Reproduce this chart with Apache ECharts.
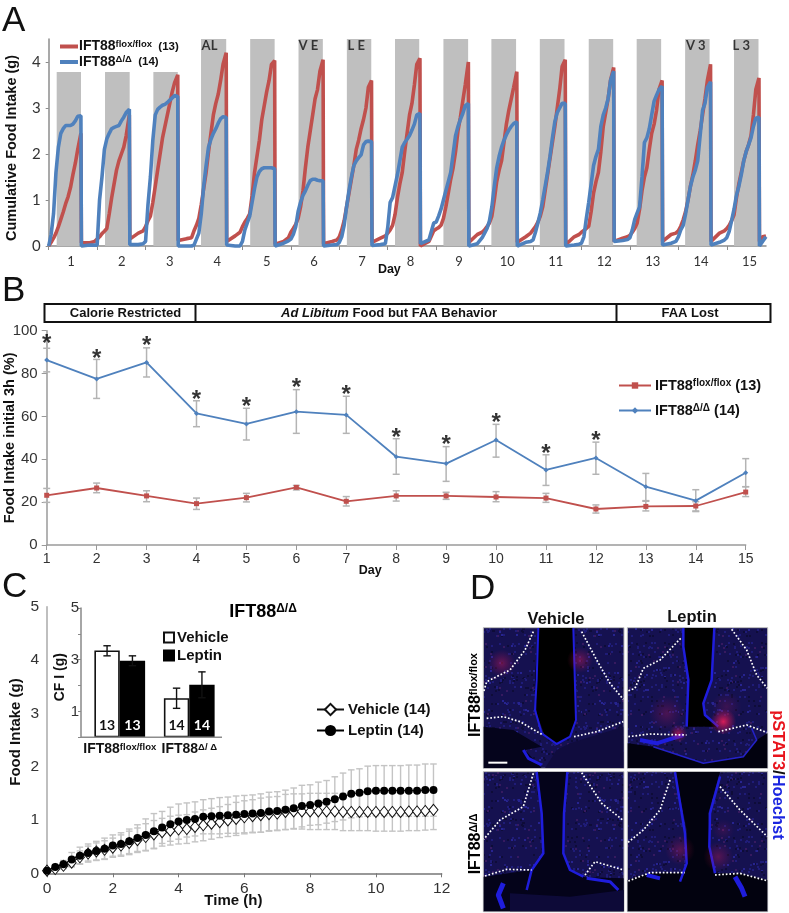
<!DOCTYPE html>
<html><head><meta charset="utf-8">
<script src="https://cdn.jsdelivr.net/npm/echarts@6/dist/echarts.min.js"></script>
<style>html,body{margin:0;padding:0;background:#fff}#c{width:789px;height:913px}</style>
</head><body><div id="c"></div>
<script>
/* ---------- Panel A data ---------- */
const dayLabels=['1','2','3','4','5','6','7','8','9','10','11','12','13','14','15'];
const dayTicks=[0,1,2,3,4,5,6,7,8,9,10,11,12,13,14];
const dayLabelAt=[.46,1.51,2.5,3.48,4.5,5.48,6.47,7.47,8.47,9.47,10.47,11.47,12.47,13.47,14.47];
const feedStart=[.165,1.163,2.161,3.145,4.16,5.158,6.156,7.15,8.15,9.14,10.14,11.15,12.14,13.14,14.15];
const feedEnd=[.667,1.672,2.665,3.665,4.665,5.66,6.66,7.65,8.66,9.65,10.65,11.655,12.645,13.645,14.655];
const feedTop=[3.78,3.78,3.78,4.5,4.5,4.5,4.5,4.5,4.5,4.5,4.5,4.5,4.5,4.5,4.5];
const bandTagX=[3.32,5.36,6.35,13.36,14.3];
const bandTagText=['AL','V E','L E','V 3','L 3'];
const sampleOffset=[-.325,-.15,-.05,0,.05,.1,.15,.2,.25,.3,.35,.4,.45,.5,.55,.6,.665];
const floxIntake=[
[null,null,null,0,.08,.17,.28,.42,.58,.74,.92,1.07,1.27,1.55,1.8,2.1,2.45],
[.07,.07,.1,.15,.2,.27,.32,.38,.7,1.05,1.35,1.65,1.85,2,2.15,2.4,2.85],
[.15,.28,.33,.42,.55,.65,.95,1.3,1.65,2,2.35,2.6,2.85,3.1,3.35,3.55,3.72],
[.12,.16,.18,.33,.45,.6,.9,1.25,1.6,2.05,2.45,2.85,3.1,3.3,3.6,3.95,4.2],
[.1,.22,.3,.42,.52,.6,.7,1.1,1.6,1.95,2.3,2.75,3.05,3.35,3.6,3.95,4.03],
[.04,.1,.18,.3,.38,.47,.6,.85,1.2,1.7,2.15,2.5,2.85,3.2,3.4,3.8,4.05],
[.05,.1,.13,.2,.35,.55,.85,1.15,1.45,1.75,2.1,2.3,2.55,2.75,3,3.45,3.6],
[.08,.17,.22,.28,.35,.45,.68,1.05,1.35,1.6,2.05,2.45,2.85,3.1,3.5,3.95,4.08],
[0,.1,.33,.37,.4,.45,.6,.85,1.15,1.45,1.7,2.05,2.5,2.8,3.15,3.5,4],
[.08,.25,.3,.35,.42,.5,.65,1,1.4,1.65,1.85,2.25,2.65,2.95,3.2,3.45,3.79],
[.08,.2,.28,.35,.42,.52,.65,.85,1.2,1.55,1.9,2.25,2.6,3,3.4,3.9,4.05],
[.03,.2,.25,.3,.34,.38,.43,.75,1.15,1.4,1.6,2.05,2.6,2.9,3.2,3.6,3.88],
[.1,.17,.2,.23,.3,.38,.5,.8,1.2,1.5,1.7,2.1,2.45,2.65,2.95,3.4,3.6],
[.1,.25,.28,.33,.43,.57,.75,1,1.3,1.55,1.85,2.2,2.5,2.85,3.2,3.6,3.95],
[.1,.28,.33,.38,.45,.55,.68,1.05,1.35,1.6,1.85,2.05,2.2,2.4,2.85,3.4,3.65]];
const deltaIntake=[
[null,null,null,0,.25,.7,1.6,2.15,2.45,2.55,2.62,2.62,2.62,2.65,2.72,2.82,2.83],
[0,.02,.02,.02,1,1.5,2.1,2.33,2.45,2.55,2.58,2.6,2.62,2.72,2.8,2.9,2.97],
[.03,.03,.05,.1,.9,1.5,2.3,2.85,2.97,3.02,3.06,3.08,3.12,3.17,3.22,3.27,3.25],
[0,0,0,.02,.15,.28,.7,1.3,1.75,2.15,2.32,2.45,2.55,2.67,2.77,2.81,2.8],
[.02,0,0,.1,.35,.5,.65,.95,1.25,1.5,1.62,1.68,1.7,1.7,1.7,1.7,1.68],
[0,.06,.11,.15,.25,.42,.75,.95,1.1,1.2,1.32,1.42,1.45,1.45,1.43,1.42,1.42],
[0,.02,.03,.08,.2,.45,.85,1.2,1.5,1.75,1.85,1.92,1.98,2.2,2.27,2.28,2.27],
[.01,.03,.05,.4,.95,1.05,1.3,1.55,1.85,2.15,2.25,2.32,2.4,2.52,2.65,2.85,2.88],
[.05,.13,.5,.52,.65,.8,1,1.2,1.4,1.6,2,2.4,2.6,2.75,2.88,3.05,3.1],
[0,.05,.18,.28,.38,.55,.85,1.3,1.7,1.95,2.15,2.3,2.42,2.52,2.6,2.66,2.7],
[0,.08,.1,.13,.3,.5,.72,1,1.3,1.6,1.95,2.35,2.7,2.9,3,3.1,3.1],
[0,.02,.04,.06,.2,.6,.95,1.35,1.75,1.95,2.1,2.6,2.85,3,3.2,3.6,3.8],
[.1,.12,.14,.18,.35,.58,.72,.85,1.5,2.25,2.35,2.55,2.85,3.15,3.28,3.4,3.47],
[.02,.06,.1,.2,.35,.45,.7,1,1.3,1.5,1.65,1.85,2.4,2.95,3.1,3.45,3.57],
[.02,.08,.13,.18,.32,.55,.8,1.1,1.3,1.55,1.85,2.05,2.2,2.35,2.6,2.78,2.8]];
const floxTail=[[14.675,.1],[14.74,.2],[14.81,.22]];
const deltaTail=[[14.675,0],[14.74,.1],[14.81,.2]];

/* ---------- Panel B data ---------- */
const trialDays=[1,2,3,4,5,6,7,8,9,10,11,12,13,14,15];
const floxInitial=[23.2,26.6,22.9,19.3,22.1,26.9,20.4,22.9,22.9,22.4,21.9,16.8,18,18.2,24.7];
const floxInitialHi=[26.4,28.9,25.3,21.9,24.1,27.8,22.6,25.3,24.6,24.9,24.1,18.7,20.4,20.2,27.2];
const floxInitialLo=[19.9,24.4,20.2,16.6,20.1,25.7,18.2,20.5,21.3,20.2,19.9,14.9,15.9,15.9,22.6];
const deltaInitial=[86.3,77.5,85.2,61.4,56.5,62.2,60.7,41.2,38,49,35,40.6,27.2,20.7,33.7];
const deltaInitialHi=[91.8,86.6,92,67.3,63.8,72.5,69.4,49.6,45.9,56.3,42.1,48,33.4,25.8,40.3];
const deltaInitialLo=[80.8,68.4,78.4,55.2,49,52.1,52.1,33,29.7,41,27.8,33,20.7,15.6,27.2];
const starDays=[1,2,3,4,5,6,7,8,9,10,11,12];
const starLevels=[95.6,88.6,94.6,69.5,66.1,75.1,71.9,51.6,48.2,58.6,44,50.2];

/* ---------- Panel C data ---------- */
const timeHours=[0,.25,.5,.75,1,1.25,1.5,1.75,2,2.25,2.5,2.75,3,3.25,3.5,3.75,4,4.25,4.5,4.75,5,5.25,5.5,5.75,6,6.25,6.5,6.75,7,7.25,7.5,7.75,8,8.25,8.5,8.75,9,9.25,9.5,9.75,10,10.25,10.5,10.75,11,11.25,11.5,11.75];
const vehicleIntake=[.05,.08,.14,.2,.3,.37,.41,.44,.48,.52,.57,.62,.68,.73,.77,.8,.82,.83,.87,.9,.93,.96,.99,1.02,1.05,1.07,1.09,1.11,1.12,1.15,1.16,1.16,1.16,1.16,1.16,1.16,1.15,1.15,1.15,1.15,1.15,1.15,1.15,1.15,1.16,1.16,1.17,1.19];
const leptinIntake=[.05,.12,.17,.26,.33,.38,.42,.46,.52,.55,.6,.66,.72,.79,.86,.92,.97,1,1.02,1.06,1.07,1.08,1.09,1.1,1.11,1.12,1.13,1.16,1.17,1.19,1.22,1.26,1.28,1.31,1.34,1.39,1.44,1.49,1.51,1.54,1.55,1.55,1.55,1.55,1.55,1.55,1.56,1.56];
const vehicleErr=[.02,.03,.05,.08,.12,.14,.16,.17,.18,.2,.22,.23,.25,.26,.26,.27,.27,.27,.28,.29,.29,.29,.3,.31,.31,.31,.32,.32,.32,.33,.33,.33,.34,.34,.34,.34,.35,.35,.35,.35,.36,.36,.36,.36,.36,.36,.36,.37];
const leptinErr=[.02,.04,.07,.13,.16,.17,.18,.2,.2,.21,.23,.25,.3,.33,.3,.32,.33,.32,.32,.32,.33,.34,.34,.35,.35,.35,.36,.36,.36,.37,.38,.39,.38,.4,.4,.42,.44,.45,.45,.47,.47,.47,.47,.47,.48,.48,.49,.49];
const insetGroups=['IFT88{sup|flox/flox}','IFT88{sup|Δ/ Δ}'];
const insetVehicle=[3.36,1.51];
const insetLeptin=[2.96,2.03];
const insetVehicleHi=[3.54,1.9], insetVehicleLo=[3.15,1.12];
const insetLeptinHi=[3.15,2.53], insetLeptinLo=[2.77,1.53];
const insetN=[13,14];

/* ---------- helpers ---------- */
const SANS='"Liberation Sans",Arial,sans-serif', LATO='Lato,"Open Sans",sans-serif';
const RED='#c0504d', BLUE='#4f81bd', AX='#8c8c8c', ERR='#b4b4b4';
const flox='IFT88flox', delta='IFT88delta';
function cycleSeries(rows,tail){
  const out=[];
  rows.forEach((row,d)=>row.forEach((v,j)=>{ if(v!==null) out.push([d+sampleOffset[j],v]); }));
  return out.concat(tail);
}
function errSeries(name,xi,yi,rows,color,cap,width,z,shift){
  return {type:'custom',name,xAxisIndex:xi,yAxisIndex:yi,z,silent:true,clip:false,
    encode:{x:0,y:[1,2]},data:rows,
    renderItem(p,api){
      const off=shift?shift*api.size([1,0])[0]:0;
      const a=api.coord([api.value(0),api.value(1)]),b=api.coord([api.value(0),api.value(2)]);
      const x=a[0]+off, st={stroke:color,lineWidth:width};
      return {type:'group',children:[
        {type:'line',shape:{x1:x,y1:a[1],x2:x,y2:b[1]},style:st},
        {type:'line',shape:{x1:x-cap,y1:a[1],x2:x+cap,y2:a[1]},style:st},
        {type:'line',shape:{x1:x-cap,y1:b[1],x2:x+cap,y2:b[1]},style:st}]};
    }};
}
const supRich=(size,small)=>({
  b:{fontFamily:SANS,fontWeight:'bold',fontSize:size,color:'#111'},
  sup:{fontFamily:SANS,fontWeight:'bold',fontSize:small,color:'#111',verticalAlign:'top',padding:[0,0,5,0]},
  sm:{fontFamily:SANS,fontWeight:'bold',fontSize:size-2.5,color:'#111'}
});
const axisLine=(c)=>({show:true,lineStyle:{color:c||AX,width:1.5}});

/* panel D drawing: coordinates are in the 3x crop frame of the panel */
const P=(X,Y)=>[470+X/3,580+Y/3];
const PS=a=>a.map(q=>P(q[0],q[1]));
function speckle(){
  const c=document.createElement('canvas');c.width=c.height=97;
  const g=c.getContext('2d');g.fillStyle='#151150';g.fillRect(0,0,97,97);
  for(let i=0;i<360;i++){
    const x=(i*37+(i*i)%53)%97,y=(i*i*11+i*23)%97,k=i%9;
    g.fillStyle=k<4?'#1f1c78':k<7?'#0e0c38':k<8?'#272490':'#361a60';
    g.fillRect(x,y,2,2);
  }
  return c;
}
const tissue=speckle();
function poly(points,fill,z){return {type:'polygon',shape:{points:PS(points)},style:{fill},z:z||10,silent:true};}
function stroke(points,color,w,z){return {type:'polyline',shape:{points:PS(points)},style:{stroke:color,lineWidth:w,fill:null,lineJoin:'round'},z:z||11,silent:true};}
function dots(points){return {type:'polyline',shape:{points:PS(points)},style:{stroke:'#fff',lineWidth:1.7,fill:null,lineDash:[1.7,1.9]},z:13,silent:true};}
function glow(X,Y,r,a){const q=P(X,Y);return {type:'circle',shape:{cx:q[0],cy:q[1],r},z:12,silent:true,
  style:{fill:new echarts.graphic.RadialGradient(.5,.5,.5,[{offset:0,color:'rgba(235,30,90,'+a+')'},{offset:1,color:'rgba(200,20,80,0)'}])}};}
function tile(X0,Y0,X1,Y1){const a=P(X0,Y0),b=P(X1,Y1);
  return {type:'rect',shape:{x:a[0],y:a[1],width:b[0]-a[0],height:b[1]-a[1]},style:{fill:{image:tissue,repeat:'repeat'},stroke:'#bdbdbd',lineWidth:1},z:9,silent:true};}
const LINE='#1f1ddc';
const panelD=[
  tile(40,143,462,565),tile(472,143,893,565),tile(40,575,462,995),tile(472,575,893,995),
  /* top left */
  poly([[205,144],[310,144],[318,420],[300,470],[260,492],[225,470],[200,400],[195,300]],'#000'),
  poly([[41,440],[130,450],[215,500],[165,510],[215,564],[41,564]],'#05041c'),
  poly([[300,490],[460,440],[461,564],[225,564],[260,510]],'#100c3e'),
  stroke([[205,144],[200,300],[195,390],[215,460],[260,492],[300,470],[318,420],[310,144]],LINE,2),
  stroke([[160,510],[175,535],[215,555]],LINE,3),
  glow(95,250,14,.4),glow(330,240,13,.4),
  dots([[190,155],[165,210],[120,270],[50,305],[41,335]]),
  dots([[335,155],[380,240],[420,310],[460,358]]),
  dots([[50,415],[100,410],[150,425],[215,463]]),
  dots([[312,470],[380,455],[460,425]]),
  {type:'rect',shape:{x:P(55,545)[0],y:P(55,545)[1],width:19,height:2},style:{fill:'#fff'},z:14,silent:true},
  /* top right */
  poly([[640,144],[733,144],[725,300],[700,370],[705,405],[745,440],[650,440],[655,300],[640,200]],'#000'),
  poly([[473,490],[550,500],[700,550],[820,530],[860,480],[892,460],[892,564],[473,564]],'#02020f'),
  stroke([[640,144],[640,200],[655,300],[650,440]],LINE,2.5),
  stroke([[733,144],[725,300],[700,370],[705,405],[745,440]],LINE,2.5),
  stroke([[510,480],[560,490],[640,465]],LINE,4),
  stroke([[845,445],[860,480],[820,530],[700,550],[550,500]],'#2422c8',1.5),
  glow(760,425,13,.9),glow(625,460,9,.6),glow(590,400,18,.25),glow(770,380,15,.18),
  dots([[632,175],[570,240],[520,265],[495,325],[473,333]]),
  dots([[785,148],[830,210],[860,285],[892,325]]),
  dots([[475,470],[540,462],[650,465]]),
  dots([[745,455],[830,435],[892,458]]),
  /* bottom left */
  poly([[200,576],[292,576],[282,700],[280,820],[300,870],[345,892],[461,895],[461,994],[41,994],[41,890],[185,870],[220,820],[215,700]],'#04031a'),
  poly([[120,940],[300,950],[461,930],[461,994],[120,994]],'#0d0a38'),
  stroke([[200,576],[215,700],[220,820],[185,870],[170,930]],LINE,2.5),
  stroke([[292,576],[282,700],[280,820],[300,870],[340,890]],LINE,2.5),
  stroke([[100,910],[85,945],[100,985]],LINE,5),
  stroke([[350,895],[420,905],[445,930]],LINE,3),
  dots([[190,580],[160,680],[90,720],[41,778]]),
  dots([[335,578],[395,670],[461,722]]),
  dots([[45,888],[110,868],[185,870]]),
  dots([[345,885],[375,845],[461,870]]),
  /* bottom right */
  poly([[615,576],[750,576],[715,700],[720,800],[735,880],[810,880],[892,900],[892,994],[473,994],[473,900],[540,880],[645,878],[650,750]],'#02020f'),
  stroke([[615,576],[645,760],[650,850],[630,905]],LINE,2.5),
  stroke([[750,590],[720,700],[718,800],[735,880]],LINE,2.5),
  stroke([[795,890],[815,925],[825,950]],LINE,5),
  stroke([[530,885],[570,895]],LINE,4),
  glow(630,810,15,.3),glow(745,830,15,.3),glow(760,750,11,.15),
  dots([[600,600],[570,690],[520,750],[473,788]]),
  dots([[750,620],[810,690],[892,770]]),
  dots([[475,903],[540,878],[645,878]]),
  dots([[735,885],[810,880],[890,902]])
];
const letter=(t,x,y)=>({type:'text',x,y,z:20,silent:true,style:{text:t,fontFamily:SANS,fontSize:35,fill:'#111',align:'left',verticalAlign:'middle'}});
const label=(o)=>Object.assign({type:'text',z:20,silent:true},o);
const boxLine=(x1,y1,x2,y2)=>({type:'line',shape:{x1,y1,x2,y2},style:{stroke:'#111',lineWidth:2},z:20,silent:true});
const boxText={fontFamily:SANS,fontWeight:'bold',fontSize:13,fill:'#111',align:'center',verticalAlign:'middle'};

const graphicEls=[
  letter('A',2,21),letter('B',2,291),letter('C',2,587),letter('D',470,589),
  {type:'rect',shape:{x:44.5,y:304,width:726,height:18},style:{fill:'#fff',stroke:'#111',lineWidth:2},z:19,silent:true},
  boxLine(195.5,304,195.5,322),boxLine(616.5,304,616.5,322),
  label({x:125.5,y:313,style:Object.assign({text:'Calorie Restricted'},boxText)}),
  label({x:389,y:313,style:Object.assign({},boxText,{text:'{i|Ad Libitum}{n| Food but FAA Behavior}',rich:{
    i:{fontFamily:SANS,fontWeight:'bold',fontStyle:'italic',fontSize:13,fill:'#111'},
    n:{fontFamily:SANS,fontWeight:'bold',fontSize:13,fill:'#111'}}})}),
  label({x:690,y:313,style:Object.assign({text:'FAA Lost'},boxText)}),
  label({x:263,y:612,style:{text:'{b|IFT88}{sup|Δ/Δ}',align:'center',verticalAlign:'middle',rich:supRich(18,12)}}),
  {type:'line',shape:{x1:81,y1:737.3,x2:222,y2:737.3},style:{stroke:AX,lineWidth:1.5},z:6,silent:true},
  label({x:556,y:619,style:{text:'Vehicle',fontFamily:SANS,fontWeight:'bold',fontSize:16.5,fill:'#111',align:'center',verticalAlign:'middle'}}),
  label({x:692,y:617,style:{text:'Leptin',fontFamily:SANS,fontWeight:'bold',fontSize:16.5,fill:'#111',align:'center',verticalAlign:'middle'}}),
  label({x:476,y:695,rotation:Math.PI/2,style:{text:'{b|IFT88}{sup|flox/flox}',align:'center',verticalAlign:'middle',rich:supRich(16,11)}}),
  label({x:476,y:844,rotation:Math.PI/2,style:{text:'{b|IFT88}{sup|Δ/Δ}',align:'center',verticalAlign:'middle',rich:supRich(16,11)}}),
  label({x:778,y:775,rotation:-Math.PI/2,style:{text:'{r|pSTAT3}{k|/}{u|Hoechst}',align:'center',verticalAlign:'middle',rich:{
    r:{fontFamily:SANS,fontWeight:'bold',fontSize:16.5,fill:'#e8141c'},
    k:{fontFamily:SANS,fontWeight:'bold',fontSize:16.5,fill:'#111'},
    u:{fontFamily:SANS,fontWeight:'bold',fontSize:16.5,fill:'#1a25e0'}}}})
].concat(panelD);

const legendNames={
  [flox]:'{b|IFT88}{sup|flox/flox}{sm|  (13)}',[delta]:'{b|IFT88}{sup|Δ/Δ}{sm|  (14)}',
  'IFT88floxB':'{b|IFT88}{sup|flox/flox}{b| (13)}','IFT88deltaB':'{b|IFT88}{sup|Δ/Δ}{b| (14)}',
  'Vehicle (14)':'{b|Vehicle (14)}','Leptin (14)':'{b|Leptin (14)}',
  'Vehicle':'{c|Vehicle}','Leptin':'{c|Leptin}'
};
const legFmt=n=>legendNames[n];

const tickLabel=(fam,size)=>({fontFamily:fam,fontSize:size,color:'#333'});
const option={
  animation:false,backgroundColor:'#fff',
  grid:[
    {left:48.7,top:39,width:717.3,height:207,outerBoundsMode:'none'},
    {left:46.7,top:330.7,width:699,height:214.3,outerBoundsMode:'none'},
    {left:47,top:606.7,width:394.7,height:266.6,outerBoundsMode:'none'},
    {left:85,top:608,width:139,height:129.3,outerBoundsMode:'none'}
  ],
  xAxis:[
    {type:'value',gridIndex:0,min:0,max:14.81,interval:1,splitLine:{show:false},axisLine:axisLine(),
     axisTick:{show:true,length:4,lineStyle:{color:AX},customValues:dayTicks},
     axisLabel:Object.assign({customValues:dayLabelAt,margin:9,formatter:v=>dayLabels[dayLabelAt.indexOf(v)]},tickLabel(LATO,13)),
     nameMoveOverlap:false,name:'Day',nameLocation:'middle',nameGap:17,nameTextStyle:{fontFamily:SANS,fontWeight:'bold',fontSize:12.5,color:'#111',padding:[0,36,0,0]}},
    {type:'value',gridIndex:1,min:1,max:15,interval:1,splitLine:{show:false},axisLine:axisLine('#9a9a9a'),
     axisTick:{show:true,length:5,lineStyle:{color:'#9a9a9a'}},
     axisLabel:Object.assign({margin:7},tickLabel(SANS,14)),
     nameMoveOverlap:false,name:'Day',nameLocation:'middle',nameGap:19,nameTextStyle:{fontFamily:SANS,fontWeight:'bold',fontSize:12.5,color:'#111',padding:[0,52,0,0]}},
    {type:'value',gridIndex:2,min:0,max:12,interval:2,splitLine:{show:false},axisLine:axisLine('#777'),
     axisTick:{show:true,length:4,inside:false,lineStyle:{color:'#777'}},
     axisLabel:Object.assign({margin:7},tickLabel(SANS,15.5)),
     nameMoveOverlap:false,name:'Time (h)',nameLocation:'middle',nameGap:20,nameTextStyle:{fontFamily:SANS,fontWeight:'bold',fontSize:15,color:'#111',padding:[0,22,0,0]}},
    {type:'category',gridIndex:3,data:insetGroups,axisLine:{show:false},axisTick:{show:false},
     axisLabel:{interval:0,margin:5,fontFamily:SANS,fontWeight:'bold',fontSize:14,color:'#111',rich:{sup:{fontFamily:SANS,fontWeight:'bold',fontSize:9.5,color:'#111',verticalAlign:'top',padding:[0,0,4,0]}}}}
  ],
  yAxis:[
    {type:'value',gridIndex:0,min:0,max:4.5,interval:1,splitLine:{show:false},axisLine:axisLine(),
     axisTick:{show:true,length:3,lineStyle:{color:AX},customValues:[0,1,2,3,4]},
     axisLabel:Object.assign({customValues:[0,1,2,3,4],margin:8},tickLabel(LATO,15)),
     nameMoveOverlap:false,name:'Cumulative Food Intake (g)',nameLocation:'middle',nameGap:29,nameTextStyle:{fontFamily:SANS,fontWeight:'bold',fontSize:14.5,color:'#111',padding:[0,11,0,0]}},
    {type:'value',gridIndex:1,min:0,max:100,interval:20,splitLine:{show:false},axisLine:axisLine('#9a9a9a'),
     axisTick:{show:true,length:5,lineStyle:{color:'#9a9a9a'}},
     axisLabel:Object.assign({margin:9},tickLabel(SANS,15)),
     nameMoveOverlap:false,name:'Food Intake initial 3h (%)',nameLocation:'middle',nameGap:29,nameTextStyle:{fontFamily:SANS,fontWeight:'bold',fontSize:14.5,color:'#111'}},
    {type:'value',gridIndex:2,min:0,max:5,interval:1,splitLine:{show:false},axisLine:axisLine('#aaa'),
     axisTick:{show:false},
     axisLabel:Object.assign({margin:8},tickLabel(SANS,15.5)),
     nameMoveOverlap:false,name:'Food Intake (g)',nameLocation:'middle',nameGap:24,nameTextStyle:{fontFamily:SANS,fontWeight:'bold',fontSize:15,color:'#111',padding:[0,0,0,16]}},
    {type:'value',gridIndex:3,min:0,max:5,interval:1,offset:4,splitLine:{show:false},axisLine:axisLine('#888'),
     axisTick:{show:true,length:3,lineStyle:{color:'#888'}},
     axisLabel:Object.assign({customValues:[1,3,5],margin:2},tickLabel(SANS,15)),
     nameMoveOverlap:false,name:'CF I (g)',nameLocation:'middle',nameGap:14,nameTextStyle:{fontFamily:SANS,fontWeight:'bold',fontSize:14,color:'#111',padding:[0,9,0,0]}}
  ],
  legend:[
    {data:[flox,delta],left:60,top:39,padding:0,orient:'vertical',icon:'rect',itemWidth:18,itemHeight:4,itemGap:1,selectedMode:false,formatter:legFmt,
     textStyle:{padding:[0,0,0,-4],rich:supRich(14,9.5)}},
    {data:['IFT88floxB','IFT88deltaB'],left:618,top:378,padding:0,orient:'vertical',itemWidth:32,itemHeight:8,itemGap:10,selectedMode:false,formatter:legFmt,
     textStyle:{padding:[0,0,0,-1],rich:supRich(14.5,10)}},
    {data:['Vehicle (14)','Leptin (14)'],left:316,top:702,padding:0,orient:'vertical',itemWidth:27,itemHeight:14,itemGap:6,selectedMode:false,formatter:legFmt,
     textStyle:{padding:[0,0,0,-1],rich:supRich(15,10)}},
    {data:['Vehicle','Leptin'],left:163,top:630,padding:0,orient:'vertical',itemWidth:10,itemHeight:10,itemGap:3,selectedMode:false,icon:'rect',formatter:legFmt,
     textStyle:{padding:[0,0,0,-2],rich:{c:{fontFamily:SANS,fontWeight:'bold',fontSize:15,color:'#111'}}}}
  ],
  graphic:graphicEls,
  series:[
    /* A */
    {type:'custom',name:'feeding',xAxisIndex:0,yAxisIndex:0,z:1,silent:true,encode:{x:[0,1],y:2},
     data:feedStart.map((s,i)=>[s,feedEnd[i],feedTop[i]]),
     renderItem(p,api){const a=api.coord([api.value(0),api.value(2)]),b=api.coord([api.value(1),0]);
       return {type:'rect',shape:{x:a[0],y:a[1],width:b[0]-a[0],height:b[1]-a[1]},style:{fill:'#bfbfbf'}};}},
    {type:'scatter',name:'tags',xAxisIndex:0,yAxisIndex:0,z:4,symbolSize:0,silent:true,
     data:bandTagX.map((x,i)=>({value:[x,4.35],label:{formatter:bandTagText[i]}})),
     label:{show:true,position:'inside',fontFamily:LATO,fontWeight:'bold',fontSize:13,color:'#111'}},
    {type:'line',name:flox,xAxisIndex:0,yAxisIndex:0,z:3,clip:false,showSymbol:false,symbol:'none',data:cycleSeries(floxIntake,floxTail),lineStyle:{color:RED,width:3.6},itemStyle:{color:RED},silent:true},
    {type:'line',name:delta,xAxisIndex:0,yAxisIndex:0,z:3,clip:false,showSymbol:false,symbol:'none',data:cycleSeries(deltaIntake,deltaTail),lineStyle:{color:BLUE,width:3.6},itemStyle:{color:BLUE},silent:true},
    /* B */
    errSeries('floxErrB',1,1,trialDays.map((d,i)=>[d,floxInitialLo[i],floxInitialHi[i]]),ERR,3.5,1.5,2),
    errSeries('deltaErrB',1,1,trialDays.map((d,i)=>[d,deltaInitialLo[i],deltaInitialHi[i]]),ERR,3.5,1.5,2),
    {type:'line',name:'IFT88floxB',xAxisIndex:1,yAxisIndex:1,z:3,clip:false,symbol:'rect',symbolSize:5,data:trialDays.map((d,i)=>[d,floxInitial[i]]),lineStyle:{color:RED,width:1.8},itemStyle:{color:RED},silent:true},
    {type:'line',name:'IFT88deltaB',xAxisIndex:1,yAxisIndex:1,z:3,clip:false,symbol:'diamond',symbolSize:5,data:trialDays.map((d,i)=>[d,deltaInitial[i]]),lineStyle:{color:BLUE,width:1.8},itemStyle:{color:BLUE},silent:true},
    {type:'scatter',name:'stars',xAxisIndex:1,yAxisIndex:1,z:5,symbolSize:0,silent:true,
     data:starDays.map((d,i)=>[d,starLevels[i]]),
     label:{show:true,position:'inside',formatter:'*',offset:[0,4],fontFamily:SANS,fontWeight:'bold',fontSize:24,color:'#000'}},
    /* C */
    errSeries('vehicleErrC',2,2,timeHours.map((t,i)=>[t,vehicleIntake[i]-vehicleErr[i],vehicleIntake[i]+vehicleErr[i]]),'#c4c4c4',3.3,1.4,2),
    errSeries('leptinErrC',2,2,timeHours.map((t,i)=>[t,leptinIntake[i]-leptinErr[i],leptinIntake[i]+leptinErr[i]]),'#c4c4c4',3.3,1.4,2),
    {type:'line',name:'Vehicle (14)',xAxisIndex:2,yAxisIndex:2,z:3,clip:false,symbol:'diamond',symbolSize:[9,11],data:timeHours.map((t,i)=>[t,vehicleIntake[i]]),lineStyle:{color:'#111',width:1},itemStyle:{color:'#fff',borderColor:'#111',borderWidth:1},silent:true},
    {type:'line',name:'Leptin (14)',xAxisIndex:2,yAxisIndex:2,z:4,clip:false,symbol:'circle',symbolSize:8,data:timeHours.map((t,i)=>[t,leptinIntake[i]]),lineStyle:{color:'#000',width:1},itemStyle:{color:'#000'},silent:true},
    /* inset */
    {type:'bar',name:'Vehicle',xAxisIndex:3,yAxisIndex:3,z:5,barWidth:'36.5%',barGap:0,data:insetVehicle,itemStyle:{color:'#fff',borderColor:'#111',borderWidth:1.6},silent:true,
     label:{show:true,position:'insideBottom',distance:5,formatter:p=>String(insetN[p.dataIndex]),fontFamily:LATO,fontWeight:'bold',fontSize:14,color:'#111'}},
    {type:'bar',name:'Leptin',xAxisIndex:3,yAxisIndex:3,z:5,barWidth:'36.5%',barGap:0,data:insetLeptin,itemStyle:{color:'#000',borderColor:'#000',borderWidth:1.6},silent:true,
     label:{show:true,position:'insideBottom',distance:5,formatter:p=>String(insetN[p.dataIndex]),fontFamily:LATO,fontWeight:'bold',fontSize:14,color:'#fff'}},
    errSeries('insetVehicleErr',3,3,[0,1].map(i=>[i,insetVehicleLo[i],insetVehicleHi[i]]),'#111',3.7,1.4,6,-.1825),
    errSeries('insetLeptinErr',3,3,[0,1].map(i=>[i,insetLeptinLo[i],insetLeptinHi[i]]),'#111',3.7,1.4,6,.1825)
  ]
};
const chart=echarts.init(document.getElementById('c'),null,{renderer:'canvas'});
chart.setOption(option);
</script></body></html>
